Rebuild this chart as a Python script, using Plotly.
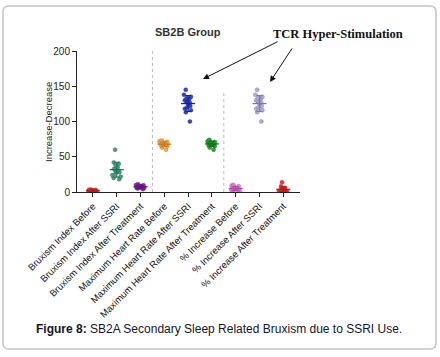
import numpy as np
import plotly.graph_objects as go

categories = [
    "Bruxism Index Before",
    "Bruxism Index After SSRI",
    "Bruxism Index After Treatment",
    "Maximum Heart Rate Before",
    "Maximum Heart Rate After SSRI",
    "Maximum Heart Rate After Treatment",
    "% Increase Before",
    "% Increase After SSRI",
    "% Increase After Treatment",
]

bi_before = [0.5, 1, 1.5, 2, 2, 2.5, 3, 1, 0.8, 1.8, 2.2, 3.5, 1.2, 2.8, 1.6]
bi_after_ssri = [18, 20, 22, 24, 26, 28, 29, 30, 31, 33, 35, 38, 40, 42, 60]
bi_after_tx = [4, 5, 5.5, 6, 6.5, 7, 7, 7.5, 8, 8, 8.5, 9, 9.5, 10, 11]
mhr_before = [60, 63, 65, 66, 67, 67, 68, 68, 69, 69, 70, 70, 71, 72, 73]
mhr_after_ssri = [100, 113, 116, 118, 120, 122, 125, 127, 128, 130, 132, 133, 135, 138, 145]
mhr_after_tx = [60, 63, 65, 66, 67, 68, 68, 69, 69, 70, 70, 71, 71, 72, 74]
pct_before = [0.5, 1.5, 2, 3, 3.5, 4, 4.5, 5, 5, 5.5, 6, 7, 8, 9, 10]
pct_after_ssri = [100, 113, 116, 118, 120, 122, 125, 127, 128, 130, 132, 133, 135, 138, 145]
pct_after_tx = [0, 0.5, 1, 1.5, 2, 2, 2.5, 3, 3, 3.5, 4, 5, 6, 8, 14]

series = [bi_before, bi_after_ssri, bi_after_tx, mhr_before, mhr_after_ssri,
          mhr_after_tx, pct_before, pct_after_ssri, pct_after_tx]

y_ticks = [0, 50, 100, 150, 200]

colors = ["#e3262a", "#3a9377", "#8424a6", "#efa23a", "#2233c4",
          "#1f9a2a", "#e277d6", "#a6a6d6", "#e3262a"]
dark = ["#b01a1d", "#25705a", "#5e1578", "#c07a20", "#17228a",
        "#136e1a", "#b04aa5", "#7878aa", "#b01a1d"]

fig = go.Figure()
for cat, vals, c, d in zip(categories, series, colors, dark):
    fig.add_trace(go.Box(
        x=[cat] * len(vals), y=vals, boxpoints="all", jitter=0.9, pointpos=0,
        fillcolor="rgba(0,0,0,0)", line=dict(width=0, color=c),
        marker=dict(color=c, size=4, opacity=0.9,
                    line=dict(width=0.5, color=d)),
        showlegend=False, hoverinfo="y",
    ))
    arr = np.array(vals, dtype=float)
    fig.add_trace(go.Scatter(
        x=[cat], y=[arr.mean()], mode="markers",
        marker=dict(symbol="line-ew", size=10, line=dict(width=1.3, color=d)),
        error_y=dict(type="data", array=[arr.std(ddof=1)], width=3,
                     thickness=1.1, color=d),
        showlegend=False, cliponaxis=False,
    ))

L, R, T, B = 77, 300, 51, 192
W, H = 440, 357


def xp(px):
    return (px - L) / (R - L)


def yp(py):
    return (B - py) / (B - T)


# rounded border
x0, x1, y0, y1, r = 3, 436, 6, 349, 6
path = (f"M {xp(x0 + r)},{yp(y0)} L {xp(x1 - r)},{yp(y0)} "
        f"Q {xp(x1)},{yp(y0)} {xp(x1)},{yp(y0 + r)} "
        f"L {xp(x1)},{yp(y1 - r)} Q {xp(x1)},{yp(y1)} {xp(x1 - r)},{yp(y1)} "
        f"L {xp(x0 + r)},{yp(y1)} Q {xp(x0)},{yp(y1)} {xp(x0)},{yp(y1 - r)} "
        f"L {xp(x0)},{yp(y0 + r)} Q {xp(x0)},{yp(y0)} {xp(x0 + r)},{yp(y0)} Z")

shapes = [
    dict(type="path", path=path, xref="paper", yref="paper",
         line=dict(color="#c4c4c4", width=1.5), layer="below"),
    dict(type="line", xref="x", yref="y", x0=2.5, x1=2.5, y0=0, y1=200,
         line=dict(color="#b8b8b8", width=1, dash="dot")),
    dict(type="line", xref="x", yref="y", x0=5.5, x1=5.5, y0=0, y1=143,
         line=dict(color="#b8b8b8", width=1, dash="dot")),
]

annotations = [
    dict(text="Increase-Decrease", x=xp(48), y=yp(122), xref="paper",
         yref="paper", showarrow=False, xanchor="center", yanchor="middle",
         textangle=-90, font=dict(family="Arial", size=9.5, color="#222222")),
    dict(text="<b>SB2B Group</b>", x=xp(188), y=yp(32), xref="paper",
         yref="paper", showarrow=False, xanchor="center", yanchor="middle",
         font=dict(family="Arial", size=11, color="#333333")),
    dict(text="<b>TCR Hyper-Stimulation</b>", x=xp(338), y=yp(34),
         xref="paper", yref="paper", showarrow=False, xanchor="center",
         yanchor="middle",
         font=dict(family="Liberation Serif", size=12.5, color="#111111")),
    dict(text="", x=xp(203), y=yp(79), xref="paper", yref="paper",
         showarrow=True, ax=76, ay=-38, arrowhead=2, arrowsize=1.2,
         arrowwidth=1, arrowcolor="#111111"),
    dict(text="", x=xp(270), y=yp(82), xref="paper", yref="paper",
         showarrow=True, ax=23, ay=-35, arrowhead=2, arrowsize=1.2,
         arrowwidth=1, arrowcolor="#111111"),
    dict(text="<b>Figure 8:</b> SB2A Secondary Sleep Related Bruxism due to SSRI Use.",
         x=xp(219), y=yp(329), xref="paper", yref="paper", showarrow=False,
         xanchor="center", yanchor="middle",
         font=dict(family="Arial", size=12, color="#14142a")),
]

fig.update_layout(
    width=W, height=H,
    margin=dict(l=L, r=W - R, t=T, b=H - B, pad=0),
    paper_bgcolor="white", plot_bgcolor="white",
    boxmode="overlay",
    shapes=shapes, annotations=annotations,
    font=dict(family="Arial", color="#222222"),
    xaxis=dict(
        type="category", categoryorder="array", categoryarray=categories,
        range=[-0.67, 8.7], showline=True, linecolor="#222222", linewidth=1,
        ticks="outside", ticklen=4, tickcolor="#222222", tickangle=-45,
        tickfont=dict(size=9.5, color="#111111"), showgrid=False,
        zeroline=False, automargin=False,
    ),
    yaxis=dict(
        range=[0, 200], tickvals=y_ticks, showline=True, linecolor="#222222",
        linewidth=1, ticks="outside", ticklen=4, tickcolor="#222222",
        tickfont=dict(size=10, color="#222222"), showgrid=False,
        zeroline=False, automargin=False,
    ),
)

fig.write_html("out.html", config={"displayModeBar": False},
               post_script="document.body.style.margin='0';")
